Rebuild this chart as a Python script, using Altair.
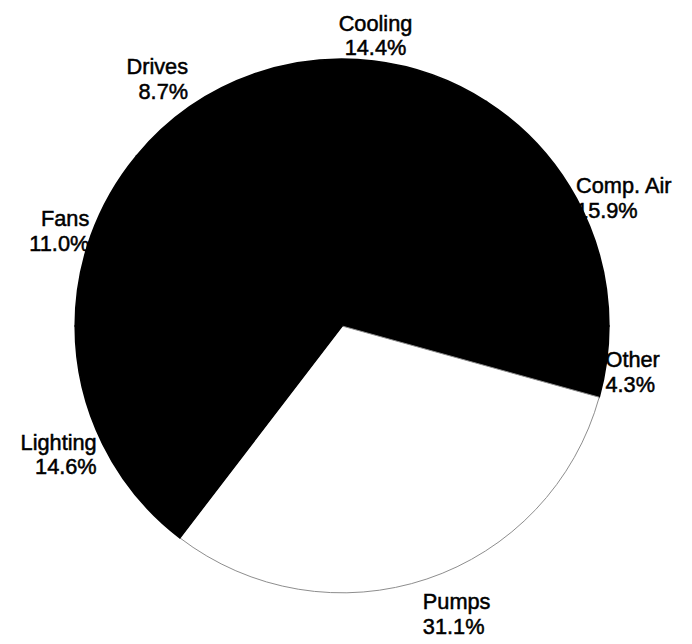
import math
import altair as alt
import pandas as pd

# ---- data ----
categories = ["Fans", "Drives", "Cooling", "Comp. Air", "Other", "Pumps", "Lighting"]
shares = [11.0, 8.7, 14.4, 15.9, 4.3, 31.1, 14.6]
highlight = "Pumps"

df = pd.DataFrame({
    "category": categories,
    "share": shares,
    "idx": list(range(len(categories))),
})

start = 1.5 * math.pi
theta_scale = alt.Scale(domain=[0, 100], range=[start, start + 2 * math.pi])

base = alt.Chart(df).encode(
    theta=alt.Theta("share:Q", stack=True, scale=theta_scale),
    order=alt.Order("idx:Q", sort="ascending"),
    detail="category:N",
)

is_hl = alt.datum.category == highlight

pie = base.mark_arc().encode(
    fill=alt.condition(is_hl, alt.value("white"), alt.value("black")),
    stroke=alt.condition(is_hl, alt.value("#8c8c8c"), alt.value("black")),
    strokeWidth=alt.condition(is_hl, alt.value(1), alt.value(1.6)),
)


def label(cat, align, radius, dx=0, dy=0):
    expr = (
        f"datum.category == '{cat}' ? "
        "[datum.category, format(datum.share, '.1f') + '%'] : ''"
    )
    return base.transform_calculate(lbl=expr).mark_text(
        align=align,
        baseline="alphabetic",
        radius=radius,
        dx=dx,
        dy=dy,
        font="Liberation Sans",
        fontSize=22,
        lineHeight=25,
        color="black",
        stroke="black",
        strokeWidth=0.5,
    ).encode(text="lbl:N")


labels = [
    label("Fans", "right", 275, dx=3, dy=-8),
    label("Drives", "right", 298, dx=14, dy=-10),
    label("Cooling", "center", 301, dx=-2),
    label("Comp. Air", "left", 272, dx=-2, dy=-4),
    label("Other", "left", 270, dx=-1, dy=5),
    label("Pumps", "left", 298, dx=-13, dy=4),
    label("Lighting", "right", 278, dx=1, dy=2),
]

chart = alt.layer(pie, *labels).properties(
    width=540,
    height=540,
    padding={"left": 68, "top": 48, "right": 76, "bottom": 46},
    autosize=alt.AutoSizeParams(type="none"),
).configure_view(stroke=None)

chart.save("out.html", embed_options={"renderer": "svg", "actions": False})
